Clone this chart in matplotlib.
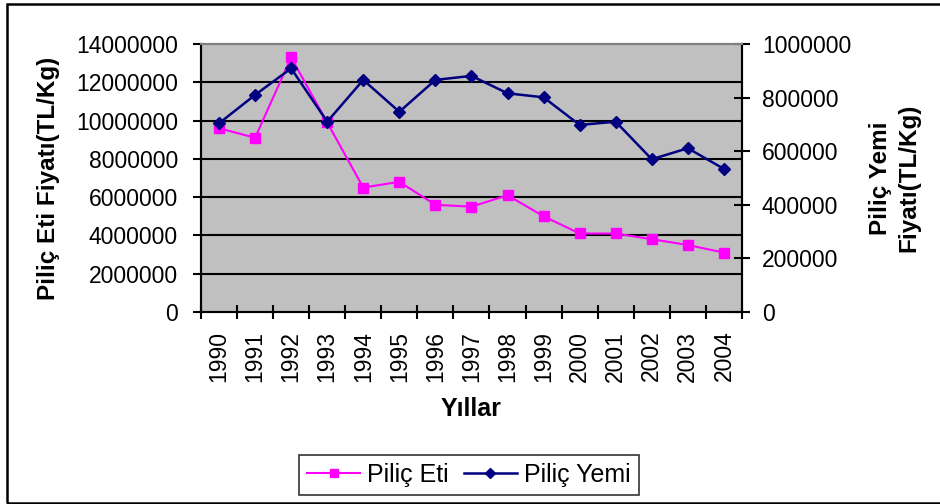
import numpy as np
import matplotlib
matplotlib.use("Agg")
import matplotlib.pyplot as plt
from matplotlib.patches import Rectangle

plt.rcParams['font.family'] = ['Liberation Sans', 'DejaVu Sans']

years = ['1990', '1991', '1992', '1993', '1994', '1995', '1996', '1997',
         '1998', '1999', '2000', '2001', '2002', '2003', '2004']
# Piliç Eti (sol eksen)
pilic_eti = [9600000, 9100000, 13300000, 9900000, 6500000, 6800000, 5600000, 5500000,
             6100000, 5000000, 4100000, 4100000, 3800000, 3500000, 3100000]
# Piliç Yemi (sağ eksen)
pilic_yemi = [704000, 810000, 909000, 710000, 866000, 747000, 866000, 881000,
              816000, 801000, 698000, 710000, 570000, 611000, 534000]

left_ticks = [0, 2000000, 4000000, 6000000, 8000000, 10000000, 12000000, 14000000]
right_ticks = [0, 200000, 400000, 600000, 800000, 1000000]

fig = plt.figure(figsize=(9.4, 5.04), dpi=100)
ax = fig.add_axes([0.2138, 0.381, 0.5755, 0.5317])
ax2 = ax.twinx()

x = np.arange(len(years))
ax.set_facecolor('#C0C0C0')
ax.set_zorder(1)
ax2.set_zorder(2)

# sol eksen verisi ax üzerinde, sağ eksen verisi ax2 üzerinde
line_eti, = ax.plot(x, pilic_eti, color='#FF00FF', lw=1.5,
                    marker='s', markersize=7.2, markeredgecolor='#FF00FF', label='Piliç Eti',
                    zorder=3)
line_yemi, = ax2.plot(x, pilic_yemi, color='#000080', lw=1.8,
                      marker='D', markersize=6, markeredgecolor='#000080', label='Piliç Yemi')

ax.set_ylim(0, 14000000)
ax2.set_ylim(0, 1000000)
ax.set_xlim(-0.5, len(years) - 0.5)
ax.set_yticks(left_ticks)
ax.set_yticklabels([str(v) for v in left_ticks], fontsize=16.5)
ax2.set_yticks(right_ticks)
ax2.set_yticklabels([str(v) for v in right_ticks], fontsize=16.5)
for v in left_ticks[1:-1]:
    ax.axhline(v, color='black', lw=1.5, zorder=0.5)

ax.set_xticks(x)
ax.set_xticklabels(years, rotation=90, fontsize=16.5)
ax.set_xticks(np.arange(-0.5, len(years), 1.0), minor=True)
ax.tick_params(axis='x', which='major', length=0, pad=13.5)
ax.tick_params(axis='x', which='minor', length=9.4, width=1.5, direction='inout')
ax.tick_params(axis='y', length=5.8, width=1.5, direction='out', pad=10.8)
ax2.tick_params(axis='y', length=12, width=1.5, direction='inout', pad=8.4)

for a in (ax, ax2):
    a.spines['left'].set_linewidth(1.5)
    a.spines['bottom'].set_linewidth(1.5)
    a.spines['right'].set_linewidth(1.5)
    a.spines['top'].set_color('#808080')
    a.spines['top'].set_linewidth(1.5)

fig.text(49 / 940, 0.647, 'Piliç Eti Fiyatı(TL/Kg)', fontsize=17.5, fontweight='bold',
         rotation=90, ha='center', va='center')
fig.text(894.5 / 940, 0.647, 'Piliç Yemi\nFiyatı(TL/Kg)', fontsize=17.5, fontweight='bold',
         rotation=90, ha='center', va='center', multialignment='center', linespacing=1.3)
fig.text(471 / 940, 0.1885, 'Yıllar', fontsize=18, fontweight='bold', ha='center', va='center')

leg = fig.legend(handles=[line_eti, line_yemi], loc='center', bbox_to_anchor=(0.499, 0.0585),
                 ncol=2, fontsize=18, frameon=True, fancybox=False, edgecolor='black',
                 handlelength=2.1, columnspacing=0.6, handletextpad=0.3,
                 borderpad=0.32, borderaxespad=0, markerscale=0.8)
leg.get_frame().set_linewidth(1.2)

fig.patches.append(Rectangle((7 / 940, 0.001), 1.0, 1 - 4 / 504 - 0.001, transform=fig.transFigure,
                             fill=False, edgecolor='black', lw=1.8))

fig.savefig('out.png', dpi=100)
